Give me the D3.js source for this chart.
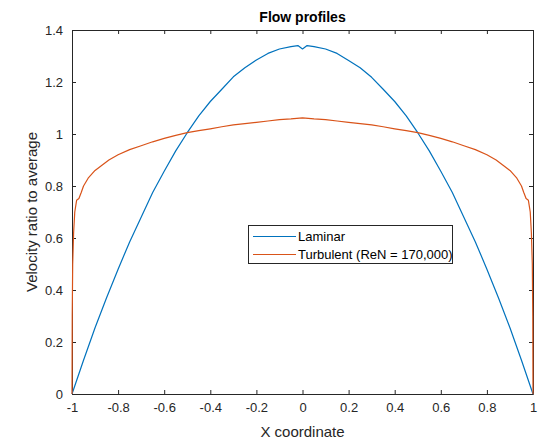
<!DOCTYPE html>
<html>
<head>
<meta charset="utf-8">
<script src="https://cdn.jsdelivr.net/npm/d3@7"></script>
<style>
  html, body { margin: 0; padding: 0; background: #fff; }
  svg { display: block; font-family: "Liberation Sans", Arial, Helvetica, sans-serif; }
</style>
</head>
<body>
<svg id="chart" width="543" height="439"></svg>
<script>
// Laminar velocity profile (ratio to average velocity) across the channel
const laminarX = [-1, -0.95, -0.9, -0.85, -0.8, -0.75, -0.7, -0.65, -0.6, -0.55, -0.5,
  -0.45, -0.4, -0.35, -0.3, -0.25, -0.2, -0.15, -0.1, -0.05, -0.02, 0, 0.02,
  0.05, 0.1, 0.15, 0.2, 0.25, 0.3, 0.35, 0.4, 0.45, 0.5, 0.55, 0.6, 0.65, 0.7,
  0.75, 0.8, 0.85, 0.9, 0.95, 1];
const laminarY = [0, 0.13, 0.255, 0.37, 0.48, 0.585, 0.68, 0.775, 0.857, 0.935, 1.005,
  1.07, 1.125, 1.172, 1.22, 1.255, 1.285, 1.31, 1.327, 1.336, 1.34, 1.327, 1.34,
  1.336, 1.327, 1.31, 1.283, 1.255, 1.218, 1.172, 1.125, 1.07, 1.005, 0.935, 0.857, 0.775, 0.68,
  0.585, 0.48, 0.37, 0.255, 0.13, 0];

// Turbulent velocity profile (ReN = 170,000)
const turbulentX = [-1, -0.999, -0.997, -0.993, -0.988, -0.98, -0.97, -0.96, -0.95, -0.93,
  -0.9, -0.87, -0.84, -0.8, -0.75, -0.7, -0.65, -0.6, -0.55, -0.5, -0.45, -0.4,
  -0.35, -0.3, -0.25, -0.2, -0.15, -0.1, -0.05, 0, 0.05, 0.1, 0.15, 0.2, 0.25,
  0.3, 0.35, 0.4, 0.45, 0.5, 0.55, 0.6, 0.65, 0.7, 0.75, 0.8, 0.84, 0.87, 0.9,
  0.93, 0.95, 0.96, 0.97, 0.98, 0.988, 0.993, 0.997, 0.999, 1];
const turbulentY = [0, 0.3, 0.5, 0.62, 0.7, 0.745, 0.752, 0.775, 0.8, 0.83,
  0.86, 0.88, 0.9, 0.92, 0.94, 0.955, 0.97, 0.983, 0.995, 1.005, 1.013, 1.02,
  1.028, 1.035, 1.04, 1.045, 1.05, 1.055, 1.058, 1.062, 1.058, 1.055, 1.05, 1.045, 1.04,
  1.035, 1.028, 1.02, 1.013, 1.005, 0.995, 0.983, 0.97, 0.955, 0.94, 0.92, 0.9, 0.88, 0.86,
  0.83, 0.8, 0.775, 0.752, 0.745, 0.7, 0.62, 0.5, 0.3, 0];

const xTicks = [-1, -0.8, -0.6, -0.4, -0.2, 0, 0.2, 0.4, 0.6, 0.8, 1];
const yTicks = [0, 0.2, 0.4, 0.6, 0.8, 1, 1.2, 1.4];
const seriesNames = ["Laminar", "Turbulent (ReN = 170,000)"];
const seriesColors = ["#0072BD", "#D95319"];

const svg = d3.select("#chart");
const plot = { left: 72, right: 533, top: 30, bottom: 394 };
const axisColor = "#262626";

const x = d3.scaleLinear().domain([-1, 1]).range([plot.left, plot.right]);
const y = d3.scaleLinear().domain([0, 1.4]).range([plot.bottom, plot.top]);

const fmt = d => d3.format("")(d).replace("\u2212", "-");

// axes with inward ticks, MATLAB-style box
const axB = svg.append("g").attr("transform", `translate(0,${plot.bottom})`)
  .call(d3.axisBottom(x).tickValues(xTicks).tickSizeInner(-4).tickSizeOuter(0).tickPadding(9).tickFormat(fmt));
const axT = svg.append("g").attr("transform", `translate(0,${plot.top})`)
  .call(d3.axisTop(x).tickValues(xTicks).tickSizeInner(-4).tickSizeOuter(0).tickFormat(""));
const axL = svg.append("g").attr("transform", `translate(${plot.left},0)`)
  .call(d3.axisLeft(y).tickValues(yTicks).tickSizeInner(-4).tickSizeOuter(0).tickPadding(9).tickFormat(fmt));
const axR = svg.append("g").attr("transform", `translate(${plot.right},0)`)
  .call(d3.axisRight(y).tickValues(yTicks).tickSizeInner(-4).tickSizeOuter(0).tickFormat(""));

[axB, axT, axL, axR].forEach(g => {
  g.selectAll("path.domain").attr("stroke", axisColor).attr("stroke-width", 1);
  g.selectAll(".tick line").attr("stroke", axisColor);
  g.selectAll("text").attr("fill", axisColor).style("font-size", "13px")
    .style("font-family", "'Liberation Sans', Arial, sans-serif");
});

// curves
const line = d3.line().x(d => x(d[0])).y(d => y(d[1]));
const laminar = d3.zip(laminarX, laminarY);
const turbulent = d3.zip(turbulentX, turbulentY);
[laminar, turbulent].forEach((data, i) => {
  svg.append("path").datum(data)
    .attr("d", line)
    .attr("fill", "none")
    .attr("stroke", seriesColors[i])
    .attr("stroke-width", 1.2)
    .attr("stroke-linejoin", "round");
});

// title and axis labels
svg.append("text").attr("x", (plot.left + plot.right) / 2).attr("y", 22)
  .attr("text-anchor", "middle").attr("fill", "#000")
  .style("font-size", "14px").style("font-weight", "bold").text("Flow profiles");
svg.append("text").attr("x", (plot.left + plot.right) / 2).attr("y", 437)
  .attr("text-anchor", "middle").attr("fill", axisColor)
  .style("font-size", "15px").text("X coordinate");
svg.append("text").attr("transform", `translate(37,${(plot.top + plot.bottom) / 2}) rotate(-90)`)
  .attr("text-anchor", "middle").attr("fill", axisColor)
  .style("font-size", "15px").text("Velocity ratio to average");

// legend
const leg = svg.append("g");
leg.append("rect").attr("x", 248.5).attr("y", 225.5).attr("width", 204).attr("height", 38)
  .attr("fill", "#fff").attr("stroke", axisColor).attr("stroke-width", 1);
seriesNames.forEach((name, i) => {
  const cy = 236.5 + i * 18;
  leg.append("line").attr("x1", 253).attr("x2", 296).attr("y1", cy).attr("y2", cy)
    .attr("stroke", seriesColors[i]).attr("stroke-width", 1.2);
  leg.append("text").attr("x", 298).attr("y", cy + 4.5).attr("fill", "#000")
    .style("font-size", "13px").text(name);
});
</script>
</body>
</html>
